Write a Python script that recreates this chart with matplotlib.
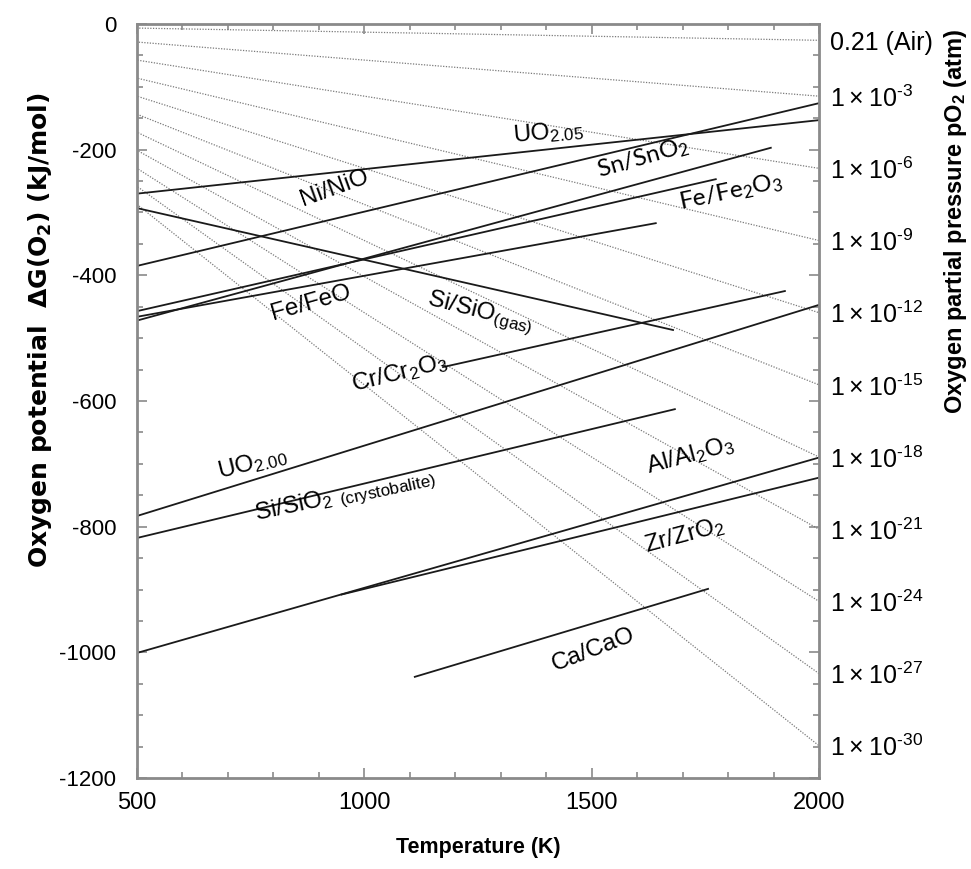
import matplotlib
matplotlib.use('Agg')
import matplotlib.pyplot as plt
import numpy as np
from matplotlib.ticker import MultipleLocator

plt.rcParams['font.family'] = ['Liberation Sans', 'DejaVu Sans']
plt.rcParams['mathtext.fontset'] = 'custom'
plt.rcParams['mathtext.rm'] = 'Liberation Sans'
plt.rcParams['mathtext.default'] = 'regular'
plt.rcParams['axes.unicode_minus'] = False

R = 8.314e-3  # kJ/(mol K)

# oxygen isobars, dG = RT ln(pO2)
po2_values = [0.21, 1e-3, 1e-6, 1e-9, 1e-12, 1e-15, 1e-18, 1e-21, 1e-24, 1e-27, 1e-30]
po2_labels = ['0.21 (Air)'] + ['1\u2009×\u200910$^{\u2010%d}$' % n
                               for n in [3, 6, 9, 12, 15, 18, 21, 24, 27, 30]]

# metal / oxide equilibria: temperature (K), oxygen potential (kJ/mol O2)
uo205_T, uo205_G = [500, 2000], [-270, -153]
ni_nio_T, ni_nio_G = [500, 2000], [-385, -126]
si_sio_gas_T, si_sio_gas_G = [500, 1679], [-293, -487]
sn_sno2_T, sn_sno2_G = [500, 1894], [-472, -197]
fe_fe2o3_T, fe_fe2o3_G = [500, 1773], [-457, -247]
fe_feo_T, fe_feo_G = [500, 1641], [-466, -317]
cr_cr2o3_T, cr_cr2o3_G = [1173, 1925], [-546, -425]
uo200_T, uo200_G = [500, 2000], [-783, -447]
si_sio2_T, si_sio2_G = [500, 1683], [-818, -613]
al_al2o3_T, al_al2o3_G = [500, 2000], [-1001, -690]
zr_zro2_T, zr_zro2_G = [950, 2000], [-908, -722]
ca_cao_T, ca_cao_G = [1111, 1756], [-1039, -899]

fig = plt.figure(figsize=(9.71, 8.69), dpi=100)
ax = fig.add_axes([137/971, 1 - 778/869, (819 - 137)/971, (778 - 24)/869])

# isobars
T = np.linspace(0, 2000, 200)
for p in po2_values:
    ax.plot(T, R * T * np.log(p), color='#7a7a7a', lw=0.9, ls=(0, (1, 1.2)))

for t, g in [(uo205_T, uo205_G), (ni_nio_T, ni_nio_G), (si_sio_gas_T, si_sio_gas_G),
             (sn_sno2_T, sn_sno2_G), (fe_fe2o3_T, fe_fe2o3_G), (fe_feo_T, fe_feo_G),
             (cr_cr2o3_T, cr_cr2o3_G), (uo200_T, uo200_G), (si_sio2_T, si_sio2_G),
             (al_al2o3_T, al_al2o3_G), (zr_zro2_T, zr_zro2_G), (ca_cao_T, ca_cao_G)]:
    ax.plot(t, g, color='#1a1a1a', lw=1.3)

# labels on the lines
fs = 17.5
ax.text(1404, -172, 'UO$_{2.05}$', fontsize=fs, rotation=5, ha='center', va='center')
ax.text(935, -262, 'Ni/NiO', fontsize=fs, rotation=20, ha='center', va='center')
ax.text(1613, -214, 'Sn/SnO$_2$', fontsize=fs, rotation=16, ha='center', va='center',
        family='Lato')
ax.text(1806, -268, 'Fe/Fe$_2$O$_3$', fontsize=fs, rotation=12, ha='center', va='center',
        family='Lato')
ax.text(883, -444, 'Fe/FeO', fontsize=fs, rotation=16, ha='center', va='center')
ax.text(1254, -460, 'Si/SiO$_{(gas)}$', fontsize=fs, rotation=-14, ha='center', va='center')
ax.text(1078, -556, 'Cr/Cr$_2$O$_3$', fontsize=fs, rotation=14, ha='center', va='center')
ax.text(753, -700, 'UO$_{2.00}$', fontsize=fs, rotation=14, ha='center', va='center')
ax.text(957, -752, 'Si/SiO$_2$ $_{(crystobalite)}$', fontsize=fs, rotation=12,
        ha='center', va='center')
ax.text(1716, -686, 'Al/Al$_2$O$_3$', fontsize=fs, rotation=15, ha='center', va='center')
ax.text(1705, -813, 'Zr/ZrO$_2$', fontsize=fs, rotation=15, ha='center', va='center')
ax.text(1503, -996, 'Ca/CaO', fontsize=fs, rotation=21, ha='center', va='center')

# pO2 values at the right edge
for p, lab in zip(po2_values, po2_labels):
    g = R * 2000 * np.log(p)
    ax.text(2025, g - 4, lab, fontsize=18, ha='left', va='center', clip_on=False)

ax.set_xlim(500, 2000)
ax.set_ylim(-1200, 0)
ax.xaxis.set_major_locator(MultipleLocator(500))
ax.xaxis.set_minor_locator(MultipleLocator(100))
ax.yaxis.set_major_locator(MultipleLocator(200))
ax.yaxis.set_minor_locator(MultipleLocator(50))
ax.tick_params(which='both', direction='in', top=True, right=True, color='#8a8a8a')
ax.tick_params(which='major', length=7, width=1.2)
ax.tick_params(which='minor', length=4, width=1.2)
ax.tick_params(axis='x', pad=10, labelsize=17)
ax.tick_params(axis='y', pad=15, labelsize=16)
for s in ax.spines.values():
    s.set_color('#8a8a8a')
    s.set_linewidth(2)

ax.set_xlabel('Temperature (K)', fontsize=15.5, fontweight='bold', labelpad=17)
fig.text(40/971, 1 - 330/869, 'Oxygen potential  ΔG(O$_2$) (kJ/mol)', fontsize=18,
         fontweight='bold', rotation=90, ha='center', va='center', family='DejaVu Sans')
fig.text(955/971, 1 - 221/869, 'Oxygen partial pressure pO$_2$ (atm)', fontsize=17,
         fontweight='bold', rotation=90, ha='center', va='center')

fig.savefig('out.png', dpi=100)
